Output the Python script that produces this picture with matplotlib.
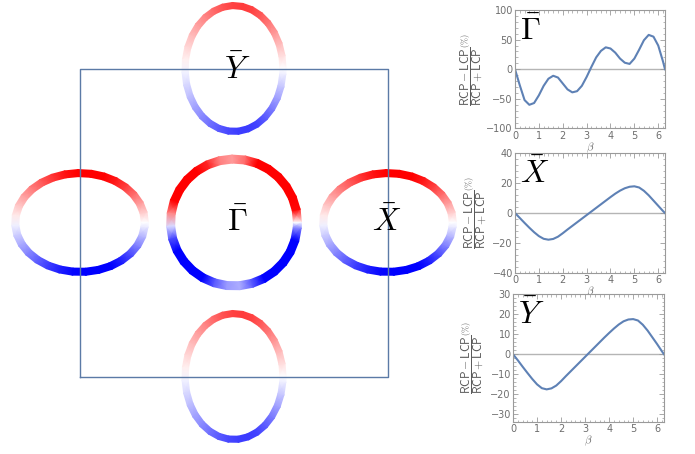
import numpy as np
import matplotlib
matplotlib.use("Agg")
import matplotlib.pyplot as plt
from matplotlib.ticker import MultipleLocator, AutoMinorLocator

plt.rcParams["mathtext.fontset"] = "cm"

# =========================
# Data
# =========================

# azimuthal angle around each pocket (rad)
beta = [0.0, 0.2, 0.4, 0.6, 0.8, 1.0, 1.2, 1.4, 1.6, 1.8, 2.0, 2.2, 2.4, 2.6, 2.8, 3.0,
        3.2, 3.4, 3.6, 3.8, 4.0, 4.2, 4.4, 4.6, 4.8, 5.0, 5.2, 5.4, 5.6, 5.8, 6.0, 6.2,
        6.2832]

# (RCP - LCP) / (RCP + LCP) in %
cd_gamma = [0, -27, -52, -60, -57, -44, -28, -16, -11, -14, -24, -34, -39, -37, -28, -13,
            4, 20, 31, 37, 35, 28, 18, 11, 9, 18, 33, 49, 58, 55, 40, 13, 0]
cd_x = [0, -3.3, -6.6, -9.8, -12.8, -15.4, -17.2, -17.8, -17.3, -15.8, -13.5, -11.0,
        -8.6, -6.2, -3.8, -1.4, 1.0, 3.4, 5.8, 8.2, 10.6, 12.9, 14.9, 16.5, 17.5, 17.8,
        17.0, 14.8, 11.8, 8.3, 4.8, 1.3, 0]
cd_y = [0, -3.0, -6.2, -9.3, -12.3, -15.0, -16.9, -17.5, -17.0, -15.6, -13.4, -10.9,
        -8.5, -6.1, -3.7, -1.3, 1.1, 3.5, 5.9, 8.3, 10.6, 12.8, 14.8, 16.4, 17.3, 17.5,
        16.8, 14.7, 11.8, 8.4, 5.0, 1.4, 0]

panel_labels = [r"$\bar{\Gamma}$", r"$\bar{X}$", r"$\bar{Y}$"]
panel_ylims = [(-100, 100), (-40, 40), (-33.5, 30)]
panel_steps = [50, 20, 10]

W, H = 695, 454
fig = plt.figure(figsize=(W / 100, H / 100), dpi=100)


# =========================
# Surface Brillouin zone with CD-coloured pockets
# =========================

def px_axes(x0, y0, x1, y1):
    return fig.add_axes([x0 / W, 1 - y1 / H, (x1 - x0) / W, (y1 - y0) / H])


def ring(ax, cx, cy, a, b, hw, vals, vmax):
    th = np.array(beta)
    d = np.array([-hw, hw])[:, None]
    xs = cx + (a + d) * np.cos(th)
    ys = cy + (b + d) * np.sin(th)
    c = np.tile(np.array(vals, dtype=float), (2, 1))
    ax.pcolormesh(xs, ys, c, shading="gouraud", cmap="bwr_r",
                  vmin=-vmax, vmax=vmax, antialiased=True)


s = 154.0
bz = fig.add_axes([0, 0, 470 / W, 1])
bz.set_xlim(-234 / s, (470 - 234) / s)
bz.set_ylim(-(H - 222.5) / s, 222.5 / s)
bz.axis("off")

ring(bz, 0, 0, 0.412, 0.412, 0.026, cd_gamma, 28)
for cx in (-1, 1):
    ring(bz, cx, 0, 0.421, 0.321, 0.023, cd_x, 17)
for cy in (-1, 1):
    ring(bz, 0, cy, 0.318, 0.409, 0.020, cd_y, 23)

bz.plot([-1, 1, 1, -1, -1], [-1, -1, 1, 1, -1], color="#5b7aa6", lw=1.0)

bz.text(0.02, 0.0, r"$\bar{\Gamma}$", fontsize=23, ha="center", va="center")
bz.text(0.994, 0.0, r"$\bar{X}$", fontsize=23, ha="center", va="center")
bz.text(0.023, 0.987, r"$\bar{Y}$", fontsize=23, ha="center", va="center")


# =========================
# CD vs beta panels
# =========================

boxes = [(515, 10, 665, 128.5), (515, 153, 665, 273), (513, 294, 664, 421.5)]
label_x = [-0.20, -0.175, -0.18]
gray = "#9a9a9a"
txt = "#6e6e6e"

for i, cd in enumerate([cd_gamma, cd_x, cd_y]):
    ax = px_axes(*boxes[i])
    ax.axhline(0, color="#b5b5b5", lw=1.0, zorder=1)
    ax.plot(beta, cd, color="#5e81b5", lw=1.5, zorder=2)
    ax.set_xlim(0, 2 * np.pi)
    ax.set_ylim(*panel_ylims[i])
    ax.xaxis.set_major_locator(MultipleLocator(1))
    ax.xaxis.set_minor_locator(AutoMinorLocator(5))
    ax.yaxis.set_major_locator(MultipleLocator(panel_steps[i]))
    ax.yaxis.set_minor_locator(AutoMinorLocator(5))
    for sp in ax.spines.values():
        sp.set_color(gray)
        sp.set_linewidth(0.8)
    ax.tick_params(which="both", direction="in", top=True, right=True,
                   color=gray, labelcolor=txt, labelsize=7, pad=1.5)
    ax.tick_params(which="major", length=3.5, width=0.6)
    ax.tick_params(which="minor", length=1.8, width=0.5)
    ax.set_xlabel(r"$\beta$", color=txt, fontsize=8, labelpad=0)
    ax.set_ylabel(r"$\dfrac{\mathsf{RCP - LCP}}{\mathsf{RCP + LCP}}^{\!\mathsf{(\%)}}$",
                  color="#5a5a5a", fontsize=8.5)
    ax.yaxis.set_label_coords(label_x[i], 0.5)
    ax.text(0.035, 0.95, panel_labels[i], transform=ax.transAxes,
            fontsize=23, ha="left", va="top")

plt.savefig("out.png", dpi=100)
plt.close()
